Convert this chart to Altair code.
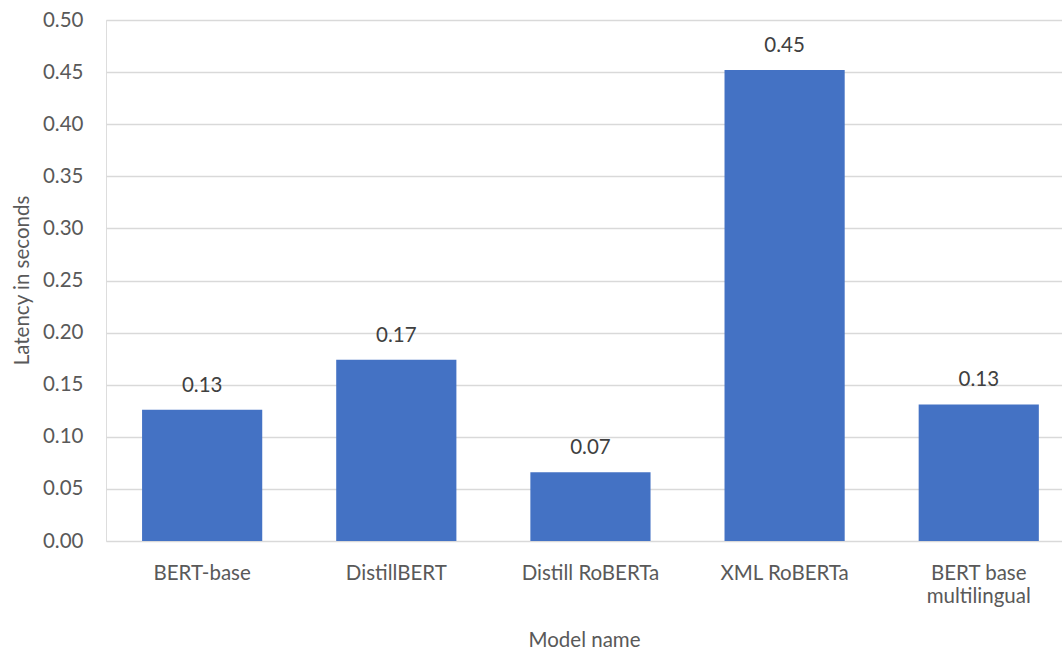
import altair as alt
import pandas as pd

# Inference latency per model
models = ["BERT-base", "DistillBERT", "Distill RoBERTa", "XML RoBERTa", "BERT base multilingual"]
latency = [0.126, 0.174, 0.066, 0.452, 0.131]

df = pd.DataFrame({"model": models, "latency": latency})

FONT = "Lato"
SIZE = 20.5
GREY = "#595959"

x = alt.X(
    "model:N",
    sort=models,
    title="Model name",
    scale=alt.Scale(paddingInner=0.381, paddingOuter=0.1525, align=0.609),
    axis=alt.Axis(
        labelAngle=0,
        labelFont=FONT,
        labelFontSize=SIZE,
        labelColor=GREY,
        labelBaseline="alphabetic",
        labelPadding=38,
        labelLineHeight=23,
        labelExpr="datum.label == 'BERT base multilingual' ? ['BERT base', 'multilingual'] : datum.label",
        titleFont=FONT,
        titleFontSize=SIZE,
        titleFontWeight="normal",
        titleColor=GREY,
        titleBaseline="alphabetic",
        titleY=105,
        ticks=False,
        domain=False,
        grid=False,
    ),
)

y = alt.Y(
    "latency:Q",
    title="Latency in seconds",
    scale=alt.Scale(domain=[0, 0.5]),
    axis=alt.Axis(
        values=[i / 100 for i in range(0, 51, 5)],
        format=".2f",
        labelFont=FONT,
        labelFontSize=SIZE,
        labelColor=GREY,
        labelPadding=23,
        titleFont=FONT,
        titleFontSize=SIZE,
        titleFontWeight="normal",
        titleColor=GREY,
        titleBaseline="alphabetic",
        titleX=-78,
        titleY=260,
        ticks=False,
        domain=False,
        gridColor="#d9d9d9",
        gridWidth=1.5,
    ),
)

bars = alt.Chart(df).mark_bar(color="#4472c4").encode(x=x, y=y)

labels = alt.Chart(df).mark_text(
    baseline="alphabetic", dy=-18, font=FONT, fontSize=SIZE, color="#404040"
).encode(
    x=alt.X("model:N", sort=models),
    y="latency:Q",
    text=alt.Text("latency:Q", format=".2f"),
)

chart = (
    alt.layer(bars, labels)
    .properties(
        width=956,
        height=521,
        autosize=alt.AutoSizeParams(type="none"),
        padding={"left": 106, "top": 20, "right": 0, "bottom": 113},
    )
    .configure_view(stroke=None)
    .configure(background="white")
)

chart.save("out.html", embed_options={"renderer": "svg", "actions": False})
